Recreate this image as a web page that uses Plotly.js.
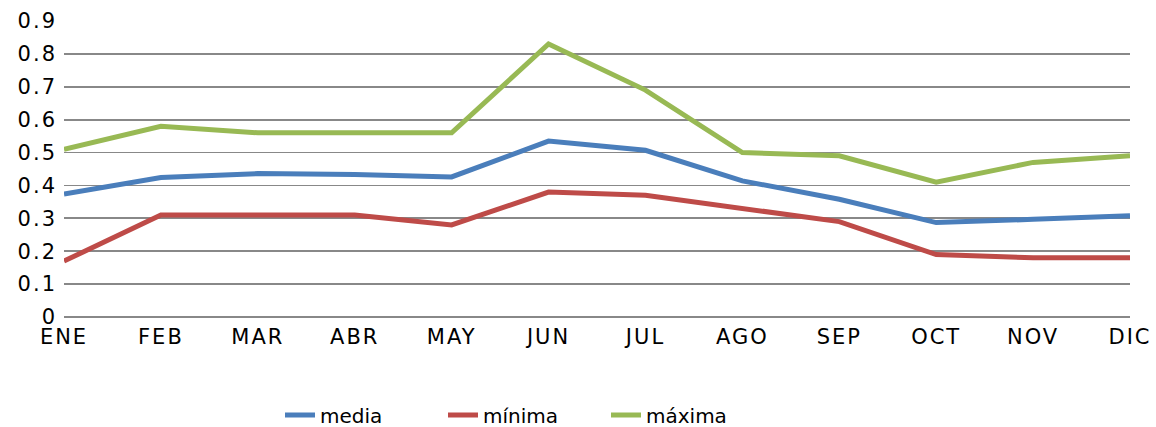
<!DOCTYPE html>
<html><head><meta charset="utf-8">
<script src="https://cdn.plot.ly/plotly-3.0.1.min.js"></script>
<style>
html,body{margin:0;padding:0;background:#fff}
#chart{width:1156px;height:427px}
#chart .xtick text, #chart .ytick text{letter-spacing:2px}
</style>
</head><body><div id="chart"></div>
<script>
const months = ["ENE","FEB","MAR","ABR","MAY","JUN","JUL","AGO","SEP","OCT","NOV","DIC"];
const media  = [0.374,0.424,0.436,0.433,0.426,0.535,0.507,0.414,0.358,0.287,0.297,0.308];
const minima = [0.17,0.31,0.31,0.31,0.28,0.38,0.37,0.33,0.29,0.19,0.18,0.18];
const maxima = [0.51,0.58,0.56,0.56,0.56,0.83,0.69,0.50,0.49,0.41,0.47,0.49];
const yTicks = [0,0.1,0.2,0.3,0.4,0.5,0.6,0.7,0.8,0.9];
const yTickText = ["0","0.1","0.2","0.3","0.4","0.5","0.6","0.7","0.8","0.9"];

const font = {family:"DejaVu Sans, Verdana, sans-serif", size:21, color:"#000"};
const legendFont = {family:"DejaVu Sans, Verdana, sans-serif", size:20, color:"#000"};
function tr(name, y, color){
  return {type:"scatter", mode:"lines", name:name, x:months, y:y,
    line:{color:color, width:5}, hoverinfo:"skip"};
}
const data = [tr("media", media, "#4A7EBB"), tr("mínima", minima, "#BE4B48"), tr("máxima", maxima, "#98B954")];
const layout = {
  width:1156, height:427,
  margin:{l:64, r:26, t:21, b:110},
  paper_bgcolor:"#fff", plot_bgcolor:"#fff",
  font:font,
  showlegend:true,
  legend:{orientation:"h", x:280/1156, xanchor:"left", xref:"container", yref:"container", y:(427-415)/427, yanchor:"middle",
    font:legendFont, entrywidth:118, entrywidthmode:"pixels", itemwidth:30},
  xaxis:{type:"category", range:[0,11], showgrid:false, zeroline:false, showline:false,
    ticks:"", tickfont:font, ticklabelstandoff:5, fixedrange:true},
  yaxis:{range:[0,0.9], tickvals:yTicks, ticktext:yTickText, showgrid:true, gridcolor:"#888888", gridwidth:1.8,
    zeroline:true, zerolinecolor:"#888888", zerolinewidth:1.8, showline:false, ticks:"", tickfont:font, ticklabelstandoff:6}
};
Plotly.newPlot("chart", data, layout, {staticPlot:true, displayModeBar:false});
</script></body></html>
